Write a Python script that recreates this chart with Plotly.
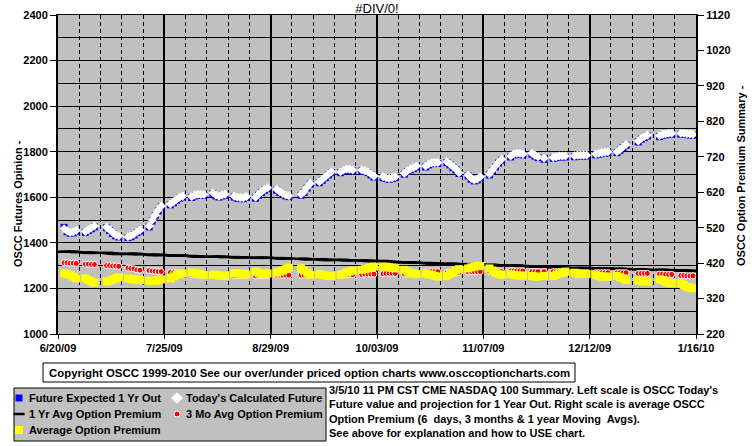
import plotly.graph_objects as go
import pandas as pd

# ---------------- data ----------------
start_date = "2009-06-22"
end_date = "2010-01-15"
market_holidays = ["2009-07-03", "2009-09-07", "2009-11-26", "2009-12-25", "2010-01-01"]
dates = [d for d in pd.bdate_range(start_date, end_date) if d.strftime("%Y-%m-%d") not in market_holidays]

todays_future = [
    1462, 1452, 1446, 1448, 1455,
    1450, 1458, 1466, 1474,
    1468, 1458, 1445, 1435, 1430,
    1427, 1431, 1439, 1449, 1456,
    1474, 1500, 1522, 1544, 1562,
    1571, 1580, 1591, 1600, 1605,
    1603, 1610, 1613, 1612, 1612,
    1620, 1610, 1605, 1610, 1613,
    1605, 1600, 1598, 1598, 1603,
    1600, 1613, 1625, 1635, 1642,
    1635, 1625, 1617, 1610, 1607,
    1613, 1625, 1644, 1661,
    1668, 1679, 1690, 1702, 1712,
    1712, 1720, 1724, 1723, 1720,
    1720, 1717, 1712, 1702, 1693,
    1690, 1686, 1683, 1686, 1690,
    1705, 1717, 1724, 1730, 1737,
    1737, 1746, 1752, 1752, 1752,
    1756, 1746, 1734, 1724, 1708,
    1698, 1683, 1676, 1680, 1690,
    1702, 1720, 1737, 1754, 1767,
    1781, 1790, 1793, 1793, 1790,
    1793, 1785, 1778, 1771,
    1775, 1778, 1781, 1781, 1781,
    1782, 1785, 1785, 1785, 1785,
    1790, 1793, 1796, 1797, 1800,
    1800, 1810, 1822, 1832,
    1847, 1859, 1866, 1873,
    1870, 1876, 1878, 1881, 1881,
    1881, 1881, 1879, 1878, 1876,
]

future_1yr_out = [
    1468, 1449, 1442, 1444, 1451,
    1446, 1454, 1462, 1470,
    1466, 1454, 1441, 1431, 1426,
    1423, 1427, 1435, 1445, 1452,
    1470, 1496, 1518, 1540, 1558,
    1567, 1576, 1587, 1596, 1601,
    1599, 1606, 1609, 1608, 1608,
    1616, 1606, 1601, 1606, 1609,
    1601, 1596, 1594, 1594, 1599,
    1596, 1609, 1621, 1631, 1638,
    1631, 1621, 1613, 1606, 1603,
    1609, 1621, 1640, 1657,
    1664, 1675, 1686, 1698, 1708,
    1708, 1716, 1720, 1719, 1716,
    1716, 1713, 1708, 1698, 1689,
    1686, 1682, 1679, 1682, 1686,
    1701, 1713, 1720, 1726, 1733,
    1733, 1742, 1748, 1748, 1748,
    1752, 1742, 1730, 1720, 1704,
    1694, 1679, 1672, 1676, 1686,
    1698, 1716, 1733, 1750, 1763,
    1777, 1786, 1789, 1789, 1786,
    1789, 1781, 1774, 1767,
    1771, 1774, 1777, 1777, 1777,
    1778, 1781, 1781, 1781, 1781,
    1786, 1789, 1792, 1793, 1796,
    1796, 1806, 1818, 1828,
    1843, 1855, 1862, 1869,
    1866, 1872, 1874, 1877, 1877,
    1877, 1877, 1875, 1874, 1872,
]

one_yr_avg_premium = [
    452, 452, 452, 452, 451,
    450, 449, 449, 449,
    449, 448, 447, 446, 446,
    446, 446, 446, 446, 445,
    444, 443, 443, 443, 443,
    442, 441, 441, 441, 441,
    440, 439, 439, 438, 438,
    438, 438, 438, 438, 437,
    437, 436, 436, 436, 436,
    435, 435, 435, 435, 435,
    434, 434, 433, 433, 433,
    432, 432, 431, 431,
    431, 430, 429, 429, 429,
    429, 429, 428, 428, 428,
    427, 427, 426, 426, 426,
    426, 425, 424, 423, 423,
    422, 422, 422, 421, 421,
    420, 420, 419, 419, 419,
    418, 418, 418, 417, 417,
    417, 417, 416, 416, 416,
    415, 415, 414, 414, 414,
    413, 413, 413, 412, 412,
    411, 410, 410, 410,
    408, 408, 407, 407, 407,
    406, 406, 406, 406, 406,
    405, 405, 405, 405, 405,
    404, 404, 403, 403,
    402, 402, 401, 401,
    401, 401, 400, 400, 400,
    399, 399, 398, 398, 398,
]

three_mo_avg_premium = [
    421, 421, 420, 420, 419,
    417, 417, 416, 416,
    413, 413, 412, 412, 411,
    406, 405, 404, 401, 400,
    399, 398, 397, 396, 396,
    394, 393, 393, 392, 392,
    388, 387, 386, 386, 386,
    385, 384, 384, 384, 384,
    384, 384, 384, 384, 384,
    384, 384, 384, 385, 385,
    386, 386, 386, 386, 386,
    386, 386, 386, 386,
    386, 386, 386, 386, 386,
    386, 386, 386, 387, 387,
    388, 389, 389, 389, 389,
    390, 391, 391, 391, 391,
    389, 389, 389, 390, 390,
    395, 396, 396, 396, 396,
    393, 393, 393, 393, 393,
    395, 396, 396, 396, 396,
    396, 396, 396, 396, 396,
    398, 398, 398, 398, 398,
    396, 396, 396, 396,
    396, 396, 396, 396, 396,
    393, 393, 393, 393, 393,
    393, 393, 393, 393, 393,
    393, 393, 393, 393,
    391, 391, 391, 391,
    389, 389, 388, 388, 388,
    385, 385, 384, 384, 384,
]

avg_option_premium = [
    391, 389, 386, 382, 377,
    377, 372, 368, 365,
    368, 370, 374, 377, 380,
    377, 375, 374, 374, 372,
    370, 370, 371, 372, 374,
    377, 382, 387, 389, 391,
    394, 393, 391, 389, 387,
    387, 387, 385, 385, 384,
    391, 391, 391, 389, 388,
    396, 393, 389, 389, 391,
    393, 396, 399, 403, 407,
    405, 399, 393, 387,
    389, 387, 385, 384, 384,
    387, 389, 393, 396, 399,
    401, 403, 405, 408, 410,
    410, 410, 408, 407, 405,
    401, 396, 393, 391, 389,
    391, 388, 387, 384, 382,
    384, 389, 393, 399, 403,
    405, 408, 410, 412, 412,
    405, 399, 393, 389, 387,
    389, 387, 385, 385, 385,
    384, 382, 382, 384,
    384, 387, 391, 393, 396,
    393, 391, 389, 389, 389,
    387, 384, 382, 382, 382,
    384, 380, 377, 372,
    372, 369, 368, 368,
    374, 372, 368, 365, 363,
    363, 358, 353, 351, 349,
]

left_ticks = [1000, 1200, 1400, 1600, 1800, 2000, 2200, 2400]
right_ticks = [220, 320, 420, 520, 620, 720, 820, 920, 1020, 1120]

series_names = ["Future Expected 1 Yr Out", "Today's Calculated Future",
                "1 Yr Avg Option Premium", "3 Mo Avg Option Premium",
                "Average Option Premium"]

# ---------------- styles ----------------
W, H = 755, 446
PLOT_L, PLOT_R, PLOT_T, PLOT_B = 58, 696, 15, 334   # plot area in pixels


def px(x):
    return x / W


def py(y):
    return 1 - y / H


FONT = "Arial, Liberation Sans, sans-serif"
bold11 = dict(family=FONT, size=11, color="black", weight="bold")

styles = [
    dict(symbol="square", size=7, color="#0000FF", line=dict(width=0)),
    dict(symbol="diamond", size=7, color="#FFFFFF", line=dict(width=0)),
    dict(symbol="line-ew", size=9, color="#000000", line=dict(width=2.5, color="#000000")),
    dict(symbol="circle", size=6, color="#FF0000", line=dict(width=1, color="#FFFFFF")),
    dict(symbol="square", size=8, color="#FFFF00", line=dict(width=0)),
]
values = [future_1yr_out, todays_future, one_yr_avg_premium, three_mo_avg_premium, avg_option_premium]
axes = ["y", "y", "y2", "y2", "y2"]

fig = go.Figure()
for name, vals, st, ax in zip(series_names, values, styles, axes):
    fig.add_trace(go.Scatter(x=dates, y=vals, mode="markers", name=name,
                             yaxis=ax, xaxis="x", marker=st, showlegend=False,
                             hovertemplate="%{x|%m/%d/%y}: %{y}<extra>" + name + "</extra>"))

# legend keys (drawn on a hidden full-page pixel overlay)
key_pos = [(19, 398), (177, 398), (19, 414), (177, 414), (19, 430)]
key_sizes = [7, 9, 8, 6, 8]
for name, st, (kx, ky), ks in zip(series_names, styles, key_pos, key_sizes):
    m = dict(st)
    m["size"] = ks
    fig.add_trace(go.Scatter(x=[kx], y=[ky], mode="markers", marker=m, xaxis="x3", yaxis="y3",
                             showlegend=False, hoverinfo="skip", name=name + " (key)"))

DAY = 86400000

fig.update_layout(
    width=W, height=H,
    margin=dict(l=0, r=0, t=0, b=0, pad=0),
    paper_bgcolor="white",
    plot_bgcolor="rgba(0,0,0,0)",
    title=dict(text="#DIV/0!", x=(PLOT_L + PLOT_R) / 2 / W, xref="container", xanchor="center",
               y=1 - 8 / H, yref="container", yanchor="middle",
               font=dict(family=FONT, size=13, color="black")),
    xaxis=dict(
        domain=[PLOT_L / W, PLOT_R / W], anchor="y",
        type="date",
        range=["2009-06-20", "2010-01-16"],
        tick0="2009-06-20", dtick=35 * DAY,
        tickformat="%-m/%d/%y",
        tickfont=bold11, automargin=False,
        ticks="outside", ticklen=4, tickcolor="black",
        showgrid=True, gridcolor="black", gridwidth=2,
        showline=True, linecolor="black", linewidth=1, mirror=True,
        zeroline=False,
        minor=dict(tick0="2009-06-20", dtick=7 * DAY, showgrid=True,
                   gridcolor="black", gridwidth=1, griddash="4px,3px", ticks=""),
    ),
    yaxis=dict(
        domain=[1 - PLOT_B / H, 1 - PLOT_T / H], anchor="x",
        range=[1000, 2400],
        tickvals=left_ticks,
        tickfont=bold11, automargin=False,
        ticks="outside", ticklen=6, tickcolor="black",
        showgrid=True, gridcolor="black", gridwidth=1,
        showline=True, linecolor="black", linewidth=2,
        zeroline=False,
        minor=dict(dtick=100, tick0=1000, showgrid=True, gridcolor="black", gridwidth=1, ticks=""),
    ),
    yaxis2=dict(
        range=[220, 1120],
        tickvals=right_ticks,
        overlaying="y", side="right", anchor="x",
        tickfont=bold11, automargin=False,
        ticks="outside", ticklen=6, tickcolor="black",
        showgrid=False, zeroline=False,
        showline=True, linecolor="black", linewidth=2,
    ),
    xaxis3=dict(domain=[0, 1], range=[0, W], visible=False, anchor="y3", fixedrange=True),
    yaxis3=dict(domain=[0, 1], range=[H, 0], visible=False, anchor="x3", fixedrange=True),
    showlegend=False,
)

# plot-area background
fig.add_shape(type="rect", xref="x domain", yref="y domain", x0=0, x1=1, y0=0, y1=1,
              fillcolor="#C0C0C0", line=dict(width=0), layer="below")

# legend box
fig.add_shape(type="rect", xref="paper", yref="paper",
              x0=px(14), x1=px(326), y0=py(441), y1=py(388),
              fillcolor="#C0C0C0", line=dict(color="black", width=1), layer="below")
legend_text_pos = [(27, 398), (184, 398), (27, 414), (184, 414), (27, 430)]
for name, (tx, ty) in zip(series_names, legend_text_pos):
    fig.add_annotation(text=name, xref="paper", yref="paper", x=px(tx), y=py(ty),
                       xanchor="left", yanchor="middle", showarrow=False, font=bold11)

# copyright box
fig.add_shape(type="rect", xref="paper", yref="paper",
              x0=px(43), x1=px(575), y0=py(382), y1=py(363),
              fillcolor="white", line=dict(color="black", width=1), layer="below")
fig.add_annotation(
    text="Copyright OSCC 1999-2010 See our over/under priced option charts www.osccoptioncharts.com",
    xref="paper", yref="paper", x=px(309), y=py(372.5), xanchor="center", yanchor="middle",
    showarrow=False, font=dict(family=FONT, size=11.4, color="black", weight="bold"))

# description text
fig.add_annotation(
    text=("3/5/10 11 PM CST CME NASDAQ 100 Summary. Left scale is OSCC Today's<br>"
          "Future value and projection for 1 Year Out. Right scale is average OSCC<br>"
          "Option Premium (6  days, 3 months &amp; 1 year Moving  Avgs).<br>"
          "See above for explanation and how to USE chart."),
    xref="paper", yref="paper", x=px(327), y=py(382), xanchor="left", yanchor="top",
    align="left", showarrow=False, font=bold11)

# axis titles
fig.add_annotation(text="OSCC Futures Opinion -", xref="paper", yref="paper",
                   x=px(18), y=py(204), xanchor="center", yanchor="middle",
                   textangle=-90, showarrow=False, font=bold11)
fig.add_annotation(text="OSCC Option Premium Summary -", xref="paper", yref="paper",
                   x=px(741), y=py(176), xanchor="center", yanchor="middle",
                   textangle=-90, showarrow=False, font=bold11)

fig.write_html("out.html",
               config={"displayModeBar": False},
               post_script="document.body.style.margin='0';document.body.style.overflow='hidden';")
